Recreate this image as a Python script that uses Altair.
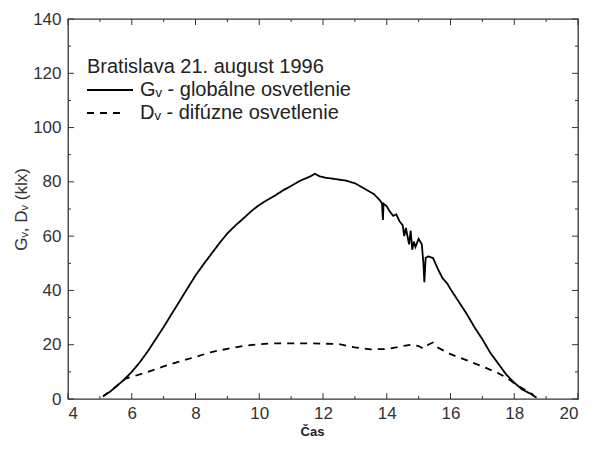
import altair as alt
import pandas as pd

# ---- data ----
hours_g = [5.1, 5.3, 5.5, 5.75, 6.0, 6.25, 6.5, 6.75, 7.0, 7.25, 7.5, 7.75, 8.0, 8.25, 8.5,
           8.75, 9.0, 9.25, 9.5, 9.75, 10.0, 10.25, 10.5, 10.75, 11.0, 11.3, 11.6, 11.75,
           11.9, 12.1, 12.4, 12.7, 13.0, 13.3, 13.6, 13.8,
           13.85, 13.88, 13.9, 14.0, 14.1, 14.2, 14.3, 14.4, 14.5, 14.55, 14.6, 14.7, 14.75,
           14.8, 14.85, 14.9, 15.0, 15.1, 15.15, 15.18, 15.22, 15.3, 15.45, 15.6, 15.75,
           15.9, 16.0, 16.25, 16.5, 16.75, 17.0, 17.25, 17.5, 17.75, 18.0, 18.25, 18.5, 18.7]
global_vals = [1, 2.5, 4.5, 7, 10, 13.5, 17.5, 22, 26.5, 31.3, 36, 40.8, 45.5, 49.6, 53.5,
               57.4, 61, 63.9, 66.5, 69.2, 71.5, 73.3, 75, 76.9, 78.5, 80.5, 82, 83,
               82, 81.5, 81, 80.5, 79.5, 77.5, 75.5, 73,
               72, 66, 72, 71, 69, 67.5, 68, 65.5, 64, 60, 63, 57, 62,
               55, 58, 56, 59, 57, 50, 43, 52, 52.5, 52, 48, 44.5,
               42.5, 40.5, 36, 31.5, 26.5, 22, 17, 13, 9, 6, 3.5, 2, 0.5]

hours_d = [5.1, 5.5, 5.8, 6.1, 6.5, 7.0, 7.5, 8.0, 8.5, 9.0, 9.5, 10.0, 10.5, 11.0, 11.5,
           12.0, 12.5, 13.0, 13.5, 14.0, 14.5, 14.8, 15.0, 15.15, 15.3, 15.45, 15.6, 16.0,
           16.5, 17.0, 17.5, 17.8, 18.1, 18.4, 18.6]
diffuse_vals = [1, 4.5, 7.5, 8.5, 10, 12, 13.8, 15.5, 17.3, 18.5, 19.5, 20.2, 20.5, 20.5, 20.5,
                20.4, 20.2, 19, 18.3, 18.4, 19.5, 20, 19.5, 18.5, 20, 20.8, 19, 16.5,
                14.3, 12, 9.5, 7.5, 5, 3, 1.5]

series = ["Gᵥ - globálne osvetlenie", "Dᵥ - difúzne osvetlenie"]
legend_title = "Bratislava 21. august 1996"
x_title = "Čas"
y_title = "Gᵥ, Dᵥ (klx)"

x_major = [4, 6, 8, 10, 12, 14, 16, 18, 20]
x_minor = [5, 7, 9, 11, 13, 15, 17, 19]
y_major = [0, 20, 40, 60, 80, 100, 120, 140]
y_minor = [10, 30, 50, 70, 90, 110, 130]

# ---- layout constants ----
W, H = 510, 380
FONT = "Liberation Sans"
MAJ, MIN = 6, 3

df = pd.concat([
    pd.DataFrame({"hour": hours_g, "value": global_vals, "series": series[0]}),
    pd.DataFrame({"hour": hours_d, "value": diffuse_vals, "series": series[1]}),
])

x_scale = alt.Scale(domain=[4, 20], nice=False, zero=False)
y_scale = alt.Scale(domain=[0, 140], nice=False)
x_axis = alt.Axis(values=x_major, title=x_title, ticks=False, domain=False, grid=False,
                  labelFontSize=17, labelPadding=6, labelColor="#333",
                  titleFontSize=13, titleFontWeight="bold", titlePadding=4,
                  titleX=244, titleAlign="center",
                  titleColor="#222", labelFont=FONT, titleFont=FONT)
y_axis = alt.Axis(values=y_major, title=y_title, ticks=False, domain=False, grid=False,
                  labelFontSize=17, labelPadding=7, labelColor="#333",
                  titleFontSize=17, titleFontWeight="normal", titlePadding=2,
                  titleColor="#333", labelFont=FONT, titleFont=FONT)


def X():
    return alt.X("hour:Q", scale=x_scale, axis=x_axis, title=x_title)


def Y():
    return alt.Y("value:Q", scale=y_scale, axis=y_axis, title=y_title)


lines = alt.Chart(df).mark_line(color="black", strokeWidth=1.8).encode(
    x=X(), y=Y(),
    strokeDash=alt.StrokeDash("series:N", scale=alt.Scale(domain=series, range=[[1, 0], [7, 6]]),
                              legend=None),
    detail="series:N",
)


def xticks(vals, length):
    d = pd.DataFrame({"hour": vals})
    bottom = alt.Chart(d).mark_rule(color="#333", strokeWidth=1).encode(
        x=X(), y=alt.value(H), y2=alt.value(H - length))
    top = alt.Chart(d).mark_rule(color="#333", strokeWidth=1).encode(
        x=X(), y=alt.value(0), y2=alt.value(length))
    return [bottom, top]


def yticks(vals, length):
    d = pd.DataFrame({"value": vals})
    left = alt.Chart(d).mark_rule(color="#333", strokeWidth=1).encode(
        y=Y(), x=alt.value(0), x2=alt.value(length))
    right = alt.Chart(d).mark_rule(color="#333", strokeWidth=1).encode(
        y=Y(), x=alt.value(W), x2=alt.value(W - length))
    return [left, right]


ticks = xticks(x_major, MAJ) + xticks(x_minor, MIN) + yticks(y_major, MAJ) + yticks(y_minor, MIN)

# ---- manual legend ----
txt = dict(align="left", baseline="middle", fontSize=20, font=FONT, color="#222")
leg_title = alt.Chart(pd.DataFrame({"t": [legend_title]})).mark_text(**txt).encode(
    x=alt.value(19), y=alt.value(48), text="t:N")
leg_g = alt.Chart(pd.DataFrame({"t": [series[0]]})).mark_text(**txt).encode(
    x=alt.value(72), y=alt.value(71), text="t:N")
leg_d = alt.Chart(pd.DataFrame({"t": [series[1]]})).mark_text(**txt).encode(
    x=alt.value(72), y=alt.value(94), text="t:N")
leg_line_g = alt.Chart(pd.DataFrame({"t": [series[0]]})).mark_rule(
    color="black", strokeWidth=1.8).encode(x=alt.value(19), x2=alt.value(65), y=alt.value(71))
leg_line_d = alt.Chart(pd.DataFrame({"t": [series[1]]})).mark_rule(
    color="black", strokeWidth=1.8, strokeDash=[7, 6]).encode(
    x=alt.value(19), x2=alt.value(57), y=alt.value(94))

chart = alt.layer(lines, *ticks, leg_title, leg_g, leg_d, leg_line_g, leg_line_d).properties(
    width=W, height=H,
    autosize=alt.AutoSizeParams(type="none"),
    padding={"left": 60, "top": 11, "right": 7, "bottom": 45},
    background="white",
).configure_view(stroke="#333", strokeWidth=1.3)

chart.save("out.html", embed_options={"renderer": "svg", "actions": False})
